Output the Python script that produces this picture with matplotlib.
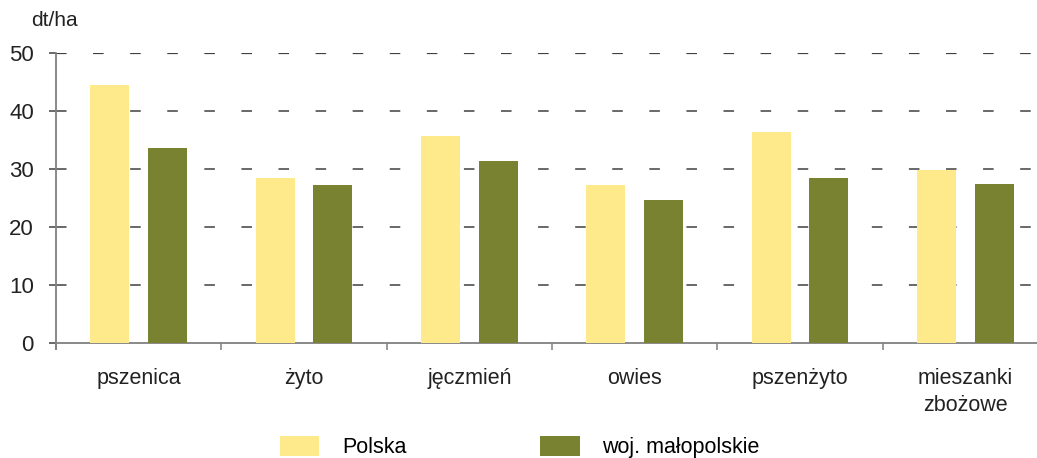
import numpy as np
import matplotlib
matplotlib.use('Agg')
import matplotlib.pyplot as plt
from matplotlib.patches import Patch

plt.rcParams['font.family'] = ['Liberation Sans', 'DejaVu Sans']

# data (dt/ha)
categories = ['pszenica', 'żyto', 'jęczmień', 'owies', 'pszenżyto', 'mieszanki\nzbożowe']
polska = [44.4, 28.5, 35.7, 27.3, 36.3, 29.9]
malopolska = [33.7, 27.3, 31.4, 24.7, 28.5, 27.5]
seriesNames = ['Polska', 'woj. małopolskie']

c1 = '#feea8a'   # Polska
c2 = '#788230'   # małopolskie
axc = '#808080'  # axis colour
tc = '#222222'   # text colour

fig = plt.figure(figsize=(10.37, 4.58), dpi=100)
ax = fig.add_axes([56/1037, 1-343/458, (1048-56)/1037, 290/458])

x = np.arange(len(categories))
ax.bar(x-0.175, polska, width=0.236, color=c1, zorder=3)
ax.bar(x+0.175, malopolska, width=0.236, color=c2, zorder=3)

ax.set_xlim(-0.5, len(categories)-0.5)
ax.set_ylim(0, 50)

# dashed horizontal grid
ax.set_yticks([0, 10, 20, 30, 40, 50])
for yv in [10, 20, 30, 40, 50]:
    lw = 1.1 if yv < 50 else 1.6
    ax.axhline(yv, color='#404040', lw=lw, linestyle=(0, (7.6/lw, 19.1/lw)), zorder=1)

for s in ['top', 'right']:
    ax.spines[s].set_visible(False)
ax.spines['left'].set_color(axc)
ax.spines['bottom'].set_color(axc)
ax.spines['left'].set_linewidth(1.3)
ax.spines['bottom'].set_linewidth(1.3)
ax.spines['left'].set_bounds(-1.0, 50)

ax.tick_params(axis='y', length=5, width=1.1, color='#404040', labelsize=16, pad=11, labelcolor=tc)
ax.set_xticks(np.arange(-0.5, len(categories), 1.0))
ax.set_xticklabels([])
ax.tick_params(axis='x', which='major', length=5, width=1.1, color=axc)
ax.set_xticks(x, minor=True)
ax.set_xticklabels(categories, minor=True, fontsize=15.5, color=tc, linespacing=1.35)
ax.tick_params(axis='x', which='minor', length=0, pad=18)

fig.text(31/1037, 1-20/458, 'dt/ha', fontsize=15, color=tc, va='center', ha='left')

handles = [Patch(facecolor=c1, edgecolor='none'), Patch(facecolor=c2, edgecolor='none')]
fig.legend(handles, seriesNames, loc='upper left', bbox_to_anchor=(271/1037, 1-427/458),
           ncol=2, frameon=False, fontsize=15.5, handlelength=1.85, handleheight=1.1,
           handletextpad=1.05, columnspacing=6.2, borderaxespad=0)

fig.savefig('out.png', dpi=100)
